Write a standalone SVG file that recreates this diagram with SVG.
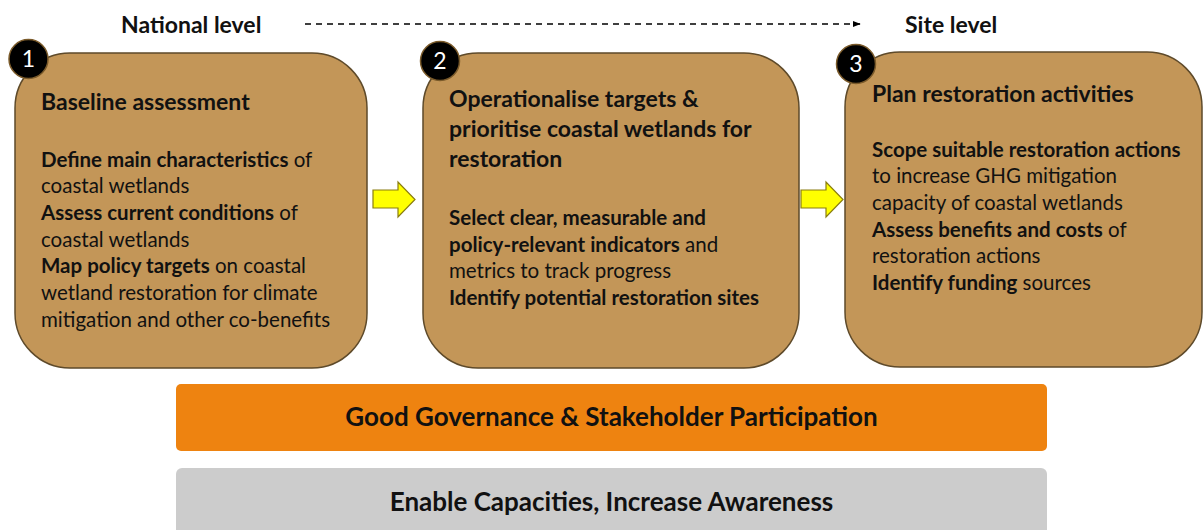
<svg xmlns="http://www.w3.org/2000/svg" width="1203" height="530" viewBox="0 0 1203 530">
  <defs>
    <marker id="dashHead" viewBox="0 0 10 10" refX="9" refY="5" markerWidth="6" markerHeight="6" orient="auto">
      <path d="M0,1 L10,5 L0,9 z" fill="#000"/>
    </marker>
    <style>
      text { font-family: Lato, "Open Sans", "Liberation Sans", sans-serif; fill: #111; }
      .stage { fill: #C39658; stroke: #5e4a2a; stroke-width: 1.5; }
      .badge { fill: #000; stroke: #7a5a2a; stroke-width: 1.5; }
      .num { fill: #fff; font-size: 23px; text-anchor: middle; }
      .head { font-size: 23px; font-weight: 700; }
      .body { font-size: 20.5px; }
      .b { font-weight: 700; }
      .level { font-size: 23px; font-weight: 700; }
      .flow { fill: #FFFF00; stroke: #8a7d10; stroke-width: 1.2; }
      .bar { font-size: 26px; font-weight: 700; text-anchor: middle; }
    </style>
  </defs>

  <!-- level axis -->
  <g id="levels">
    <text class="level" x="121" y="33">National level</text>
    <text class="level" x="905" y="33">Site level</text>
  </g>

  <g id="connectors">
    <line x1="305" y1="24" x2="860" y2="24" stroke="#000" stroke-width="1.3" stroke-dasharray="6,5" marker-end="url(#dashHead)"/>
    <path class="flow" d="M373,190 L398,190 L398,182 L415,199.5 L398,217 L398,208 L373,208 z"/>
    <path class="flow" d="M801,190 L826,190 L826,182 L843,199.5 L826,217 L826,208 L801,208 z"/>
  </g>

  <!-- stage 1 -->
  <g id="stage1">
    <rect class="stage" x="15" y="53" width="352" height="315" rx="55" ry="55"/>
    <circle class="badge" cx="28.5" cy="59" r="19.5"/>
    <text class="num" x="28.5" y="67">1</text>
    <text class="head" x="41" y="110">Baseline assessment</text>
    <text class="body" x="41" y="167"><tspan class="b">Define main characteristics</tspan> of</text>
    <text class="body" x="41" y="193">coastal wetlands</text>
    <text class="body" x="41" y="220"><tspan class="b">Assess current conditions</tspan> of</text>
    <text class="body" x="41" y="247">coastal wetlands</text>
    <text class="body" x="41" y="273"><tspan class="b">Map policy targets</tspan> on coastal</text>
    <text class="body" x="41" y="300">wetland restoration for climate</text>
    <text class="body" x="41" y="327">mitigation and other co-benefits</text>
  </g>

  <!-- stage 2 -->
  <g id="stage2">
    <rect class="stage" x="423" y="53" width="376" height="315" rx="55" ry="55"/>
    <circle class="badge" cx="440" cy="61" r="19.5"/>
    <text class="num" x="440" y="69">2</text>
    <text class="head" x="449" y="107">Operationalise targets &amp;</text>
    <text class="head" x="449" y="137">prioritise coastal wetlands for</text>
    <text class="head" x="449" y="167">restoration</text>
    <text class="body" x="449" y="225"><tspan class="b">Select clear, measurable and</tspan></text>
    <text class="body" x="449" y="252"><tspan class="b">policy-relevant indicators</tspan> and</text>
    <text class="body" x="449" y="278">metrics to track progress</text>
    <text class="body" x="449" y="305"><tspan class="b">Identify potential restoration sites</tspan></text>
  </g>

  <!-- stage 3 -->
  <g id="stage3">
    <rect class="stage" x="845" y="52" width="357" height="315" rx="55" ry="55"/>
    <circle class="badge" cx="856" cy="64" r="19.5"/>
    <text class="num" x="856" y="72">3</text>
    <text class="head" x="872" y="102">Plan restoration activities</text>
    <text class="body" x="872" y="157"><tspan class="b">Scope suitable restoration actions</tspan></text>
    <text class="body" x="872" y="183">to increase GHG mitigation</text>
    <text class="body" x="872" y="210">capacity of coastal wetlands</text>
    <text class="body" x="872" y="237"><tspan class="b">Assess benefits and costs</tspan> of</text>
    <text class="body" x="872" y="263">restoration actions</text>
    <text class="body" x="872" y="290"><tspan class="b">Identify funding</tspan> sources</text>
  </g>

  <!-- cross-cutting foundations -->
  <g id="governance">
    <rect x="176" y="384" width="871" height="67" rx="5" ry="5" fill="#EE8310"/>
    <text class="bar" x="611.5" y="426">Good Governance &amp; Stakeholder Participation</text>
  </g>
  <g id="capacity">
    <rect x="176" y="468" width="871" height="70" rx="6" ry="6" fill="#CCCCCC"/>
    <text class="bar" x="611.5" y="511">Enable Capacities, Increase Awareness</text>
  </g>
</svg>
